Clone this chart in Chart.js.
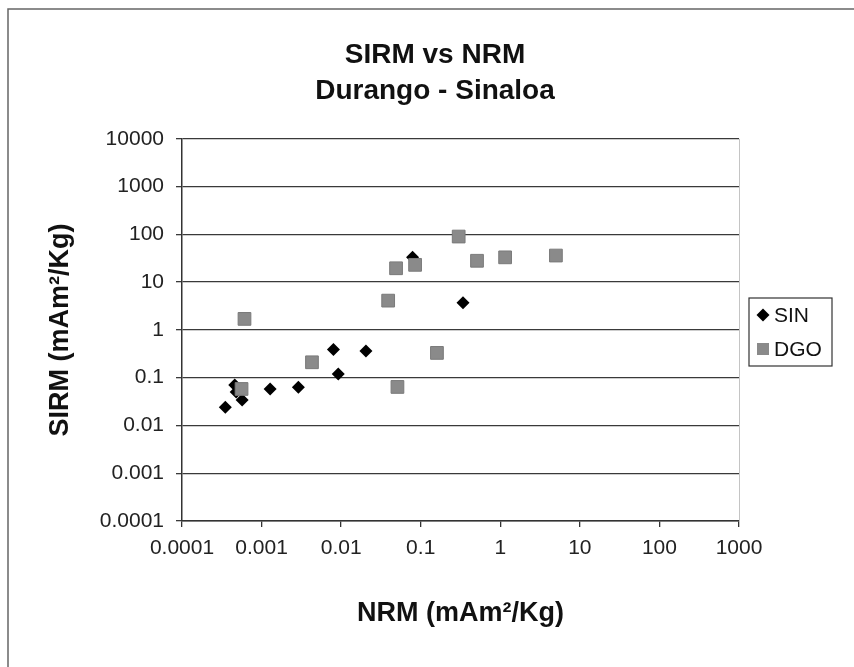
<!DOCTYPE html>
<html lang="en">
<head>
  <meta charset="UTF-8" />
  <title>SIRM vs NRM - Durango - Sinaloa</title>
  <style>
    * { margin: 0; padding: 0; box-sizing: border-box; }
    body { background: #fff; width: 854px; height: 667px; overflow: hidden; }
    .chart-box { position: relative; width: 854px; height: 667px; }
  </style>
</head>
<body>
  <div class="chart-box">
    <canvas id="rmChart" width="854" height="667"></canvas>
  </div>
  <script src="https://cdn.jsdelivr.net/npm/chart.js"></script>
  <script>
    // values (log-log, mAm^2/Kg)
    const sinX = [0.00035, 0.00046, 0.00048, 0.00057, 0.00128, 0.0029, 0.0080, 0.0092, 0.0205, 0.079, 0.34];
    const sinY = [0.024, 0.07, 0.05, 0.034, 0.058, 0.063, 0.39, 0.12, 0.36, 33, 3.7];
    const dgoX = [0.00061, 0.00056, 0.0043, 0.039, 0.049, 0.051, 0.085, 0.16, 0.30, 0.51, 1.15, 5.0];
    const dgoY = [1.7, 0.058, 0.21, 4.1, 19.5, 0.064, 23, 0.33, 90, 28, 33, 36];

    const xTicks = [0.0001, 0.001, 0.01, 0.1, 1, 10, 100, 1000];
    const xTickLabels = ["0.0001", "0.001", "0.01", "0.1", "1", "10", "100", "1000"];
    const yTicks = [0.0001, 0.001, 0.01, 0.1, 1, 10, 100, 1000, 10000];
    const yTickLabels = ["0.0001", "0.001", "0.01", "0.1", "1", "10", "100", "1000", "10000"];

    const FONT = "'Liberation Sans', Arial, Helvetica, sans-serif";

    function toPoints(xs, ys) {
      return xs.map((x, i) => ({ x: x, y: ys[i] }));
    }

    // page frame, plot right edge and the boxed legend
    const decorPlugin = {
      id: "decor",
      beforeDraw(chart) {
        const ctx = chart.ctx;
        ctx.save();
        ctx.fillStyle = "#fff";
        ctx.fillRect(0, 0, chart.width, chart.height);
        ctx.strokeStyle = "#666";
        ctx.lineWidth = 1.5;
        ctx.beginPath();
        ctx.moveTo(8, chart.height);
        ctx.lineTo(8, 9);
        ctx.lineTo(chart.width, 9);
        ctx.stroke();
        ctx.restore();
      },
      beforeDatasetsDraw(chart) {
        const a = chart.chartArea;
        const ctx = chart.ctx;
        ctx.save();
        ctx.strokeStyle = "#c4c4c4";
        ctx.lineWidth = 1;
        ctx.beginPath();
        ctx.moveTo(a.right + 0.5, a.top);
        ctx.lineTo(a.right + 0.5, a.bottom);
        ctx.stroke();
        ctx.restore();
      },
      afterDraw(chart) {
        const ctx = chart.ctx;
        const bx = 749, by = 298, bw = 83, bh = 68;
        ctx.save();
        ctx.strokeStyle = "#333";
        ctx.lineWidth = 1.2;
        ctx.strokeRect(bx, by, bw, bh);
        ctx.font = "21px " + FONT;
        ctx.textBaseline = "middle";
        chart.data.datasets.forEach((ds, i) => {
          const cy = by + 17 + i * 34;
          const cx = bx + 14;
          ctx.fillStyle = ds.backgroundColor;
          ctx.beginPath();
          if (ds.pointStyle === "rectRot") {
            const r = 6.5;
            ctx.moveTo(cx - r, cy);
            ctx.lineTo(cx, cy - r);
            ctx.lineTo(cx + r, cy);
            ctx.lineTo(cx, cy + r);
            ctx.closePath();
          } else {
            ctx.rect(cx - 6, cy - 6, 12, 12);
          }
          ctx.fill();
          ctx.fillStyle = "#111";
          ctx.fillText(ds.label, cx + 11, cy + 1);
        });
        ctx.restore();
      }
    };

    new Chart(document.getElementById("rmChart"), {
      type: "scatter",
      data: {
        datasets: [
          {
            label: "SIN",
            data: toPoints(sinX, sinY),
            pointStyle: "rectRot",
            pointRadius: 6.5,
            backgroundColor: "#000",
            borderColor: "#000",
            borderWidth: 0,
            order: 1
          },
          {
            label: "DGO",
            data: toPoints(dgoX, dgoY),
            pointStyle: "rect",
            pointRadius: 9,
            backgroundColor: "#8a8a8a",
            borderColor: "#7a7a7a",
            borderWidth: 1,
            order: 0
          }
        ]
      },
      plugins: [decorPlugin],
      options: {
        responsive: false,
        animation: false,
        events: [],
        layout: { padding: { left: 16, top: 0, right: 0, bottom: 0 } },
        plugins: {
          legend: { display: false },
          tooltip: { enabled: false },
          title: {
            display: true,
            text: ["SIRM vs NRM", "Durango - Sinaloa"],
            color: "#111",
            font: { family: FONT, size: 28, weight: "bold", lineHeight: 1.3 },
            padding: { top: 37, bottom: 29 }
          }
        },
        scales: {
          x: {
            type: "logarithmic",
            position: "bottom",
            min: 0.0001,
            max: 1000,
            afterBuildTicks: s => { s.ticks = xTicks.map(v => ({ value: v })); },
            afterFit: s => { s.height = 146; },
            ticks: {
              color: "#222",
              font: { family: FONT, size: 21 },
              padding: 9,
              maxRotation: 0,
              autoSkip: false,
              callback: (v, i) => xTickLabels[i]
            },
            grid: { drawOnChartArea: false, drawTicks: true, tickLength: 6, color: "#333", lineWidth: 1.3 },
            border: { display: true, color: "#333", width: 1.5 },
            title: {
              display: true,
              text: "NRM (mAm²/Kg)",
              color: "#111",
              font: { family: FONT, size: 27, weight: "bold" },
              padding: { top: 0, bottom: 37 }
            }
          },
          y: {
            type: "logarithmic",
            position: "left",
            min: 0.0001,
            max: 10000,
            afterBuildTicks: s => { s.ticks = yTicks.map(v => ({ value: v })); },
            afterFit: s => { s.width = 166; },
            ticks: {
              color: "#222",
              font: { family: FONT, size: 21 },
              padding: 12,
              autoSkip: false,
              callback: (v, i) => yTickLabels[i]
            },
            grid: { color: "#3a3a3a", lineWidth: 1.3, drawTicks: true, tickLength: 6 },
            border: { display: true, color: "#333", width: 1.5 },
            title: {
              display: true,
              text: "SIRM (mAm²/Kg)",
              color: "#111",
              font: { family: FONT, size: 27, weight: "bold" },
              padding: { top: 28, bottom: 0 }
            }
          },
          // empty right column that holds the legend space
          yRight: {
            type: "linear",
            position: "right",
            display: true,
            afterFit: s => { s.width = 115; },
            ticks: { display: false },
            grid: { display: false },
            border: { display: false }
          }
        }
      }
    });
  </script>
</body>
</html>
